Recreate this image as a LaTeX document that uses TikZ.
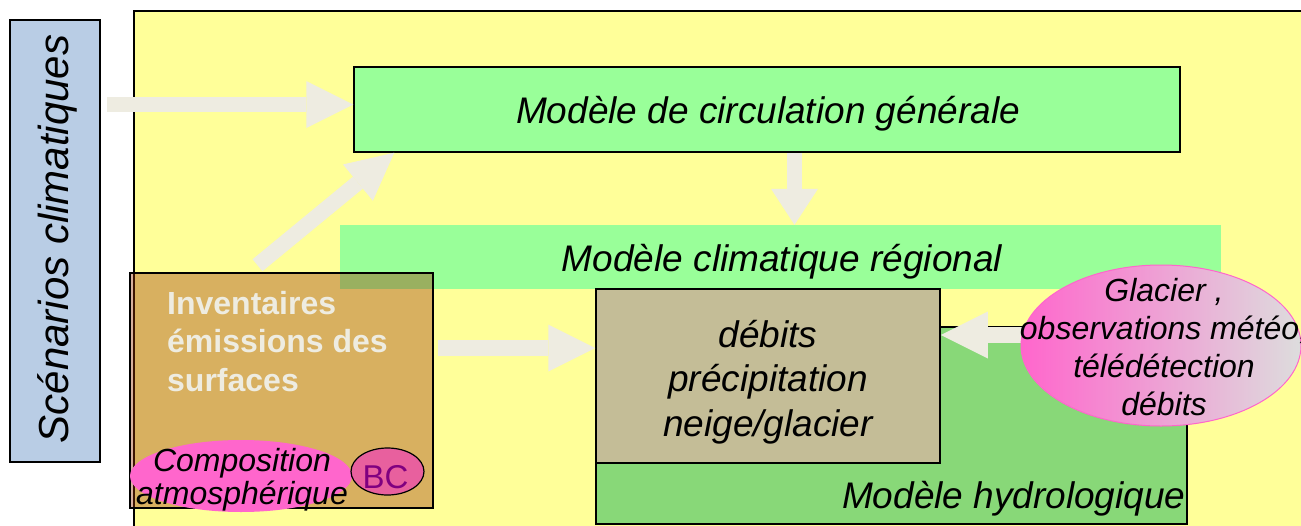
\documentclass[tikz,border=0pt]{standalone}
\usepackage{fontspec}
\setmainfont{Liberation Sans}
\usetikzlibrary{shapes.geometric,arrows.meta,calc}
\definecolor{yellowc}{HTML}{FFFF99}
\definecolor{greenc}{HTML}{99FF99}
\definecolor{hydroc}{HTML}{88D878}
\definecolor{debc}{HTML}{C4BD97}
\definecolor{bluec}{HTML}{B9CDE5}
\definecolor{arrowc}{HTML}{EEECE1}
\definecolor{invc}{RGB}{155,52,7}
\definecolor{pinkc}{HTML}{FF66CC}
\definecolor{bcc}{HTML}{E8609E}
\definecolor{grayc}{HTML}{DDDDDD}
\definecolor{purplec}{HTML}{800080}
\begin{document}
\begin{tikzpicture}[x=1pt,y=-1pt,
  box/.style={draw=black, line width=1.5pt, rectangle, inner sep=0pt},
  bigtxt/.style={font=\itshape\fontsize{37}{44.5}\selectfont, align=center, inner sep=0pt},
  midtxt/.style={font=\itshape\fontsize{32}{38}\selectfont, align=center, inner sep=0pt},
  blockarrow/.style={draw=arrowc, line width=15.5pt, -{Triangle[length=47pt,width=47pt,line width=0pt]}},
  ell/.style={ellipse, inner sep=0pt}
]
\useasboundingbox (0,0) rectangle (1301,525);
\clip (0,0) rectangle (1301,525);
% background panel
\node[box, fill=yellowc, anchor=north west, minimum width=1200pt, minimum height=540pt] (panel) at (133,10) {};
% scenarios
\node[box, fill=bluec, minimum width=90pt, minimum height=442pt] (scen) at (55,241) {};
\node[font=\itshape\fontsize{42}{48}\selectfont, rotate=90, inner sep=0pt] (scent) at (57,239) {Scénarios climatiques};
% GCM
\node[box, fill=greenc, minimum width=826pt, minimum height=85pt] (gcm) at (767,109.5) {};
\node[bigtxt] (gcmt) at (768,114) {Modèle de circulation générale};
\coordinate (t1) at ([yshift=5pt]gcm.west);
\draw[blockarrow, shorten <=6pt] (scen.east |- t1) -- (t1);
% RCM band
\node[fill=greenc, minimum width=881pt, minimum height=64pt, inner sep=0pt] (rcm) at (780.5,257) {};
\node[bigtxt] (rcmt) at (782,262) {Modèle climatique régional};
\coordinate (t3) at ([xshift=27.5pt]gcm.south);
\draw[blockarrow, -{Triangle[length=36pt,width=47pt,line width=0pt]}] (t3) -- (t3 |- rcm.north);
% diagonal arrow
\coordinate (t2) at ([xshift=41pt]gcm.south west);
% hydro model
\node[box, fill=hydroc, minimum width=591pt, minimum height=197pt] (hydro) at (891.5,425.5) {};
\node[bigtxt, anchor=base east] (hydrot) at ([xshift=-2pt,yshift=16pt]hydro.south east) {Modèle hydrologique};
% debits box
\node[box, fill=debc, minimum width=344pt, minimum height=174pt] (deb) at (768,376) {};
\node[bigtxt] (debt) at (768,382) {débits\\précipitation\\neige/glacier};
% inventaires box
\node[box, fill=invc, fill opacity=0.39, minimum width=303pt, minimum height=235pt] (inv) at (281.5,390.5) {};
\node[font=\bfseries\fontsize{32}{38.5}\selectfont, text=arrowc, align=left, anchor=north west, inner sep=0pt] (invt) at (167,291) {Inventaires\\émissions des\\surfaces};
\draw[blockarrow] ([xshift=-24pt,yshift=7pt]inv.north) -- (t2);
\coordinate (t4) at ([yshift=28pt]deb.west);
\draw[blockarrow, shorten <=4pt] (inv.east |- t4) -- (t4);
% composition
\node[ell, fill=pinkc, minimum width=222pt, minimum height=72pt] (comp) at (241,476) {};
\node[midtxt, font=\itshape\fontsize{32}{33}\selectfont] (compt) at ([xshift=1pt,yshift=-4pt]comp.center) {Composition\\atmosphérique};
\node[ell, draw=black, line width=1.2pt, fill=bcc, minimum width=73pt, minimum height=47pt] (bc) at (387.5,471.5) {};
\node[font=\fontsize{33}{36}\selectfont, text=purplec, inner sep=0pt] (bct) at ([xshift=-2pt,yshift=-6pt]bc.center) {BC};
% glacier
\coordinate (t5) at ([yshift=41pt]deb.east);
\node[ell, minimum width=280pt, minimum height=161pt] (glacpos) at (1161,345.5) {};
\draw[blockarrow, shorten <=-4pt] (glacpos.west |- t5) -- (t5);
\node[ell, draw=pinkc, line width=1pt, left color=pinkc, right color=grayc, minimum width=280pt, minimum height=161pt] (glac) at (1161,345.5) {};
\node[midtxt] (glact) at ([xshift=3pt,yshift=-1.5pt]glac.center) {Glacier ,\\observations météo,\\télédétection\\débits};
\end{tikzpicture}
\end{document}
